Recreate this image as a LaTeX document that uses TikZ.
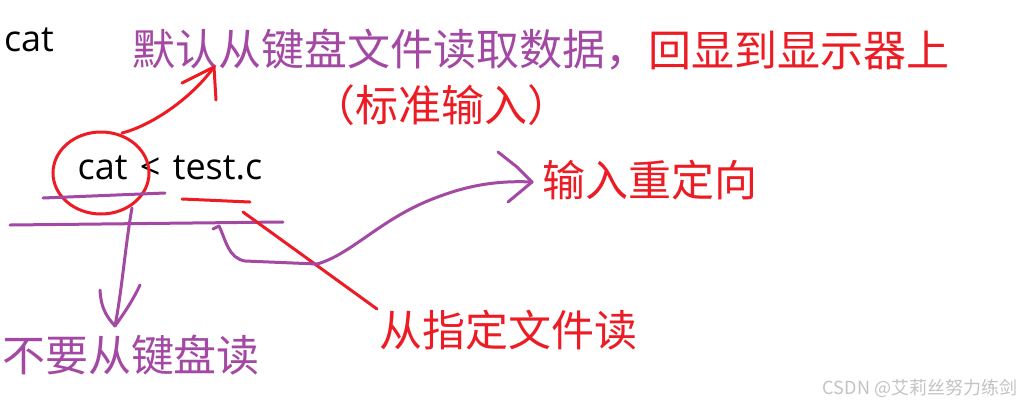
\documentclass[tikz,border=0pt]{standalone}
\usepackage{fontspec}
\setmainfont{Noto Sans CJK SC}
\newfontfamily\latinfont{Open Sans}
\usetikzlibrary{shapes.geometric}
\definecolor{ppurple}{RGB}{163,73,164}
\definecolor{pred}{RGB}{237,28,36}
\definecolor{wmgray}{RGB}{195,195,195}
\begin{document}
\begin{tikzpicture}[x=1pt,y=-1pt,
  pur/.style={draw=ppurple,line width=3pt,line cap=round,line join=round},
  rd/.style={draw=pred,line width=3pt,line cap=round,line join=round},
  lbl/.style={inner sep=0pt,font=\fontsize{43}{50}\selectfont},
  code/.style={inner sep=0pt,font=\latinfont\fontsize{36}{42}\selectfont,text=black}]
\useasboundingbox[fill=white] (0,0) rectangle (1029,408);

% texts
\node[code] (cat) at (29,40) {cat};
\node[lbl,text=ppurple,anchor=west] (def) at (132,50) {默认从键盘文件读取数据，};
\node[lbl,text=pred,anchor=west] (echo) at (def.east) {回显到显示器上};
\node[lbl,text=pred] (std) at (441,105) {（标准输入）};
\node[code] (cmd) at (170,168) {cat\hspace{3pt} <\hspace{3pt} test.c};
\node[lbl,text=pred] (redir) at (650,180) {输入重定向};
\node[lbl,text=pred] (file) at (508,330) {从指定文件读};
\node[lbl,text=ppurple] (nokb) at (131,355) {不要从键盘读};
\node[inner sep=0pt,font=\fontsize{18}{20}\selectfont,text=wmgray] (wm) at (920,388) {CSDN @艾莉丝努力练剑};

% red ring around "cat"
\node[ellipse,draw=pred,line width=3pt,minimum width=96pt,minimum height=82pt,inner sep=0pt] (ring) at (101,173) {};

% named points
\coordinate (upStart) at (122,133);
\coordinate (upTip) at (214,67);
\coordinate (downStart) at (132,208);
\coordinate (downTip) at (115,326);
\coordinate (loopStart) at (213,229);
\coordinate (redirTip) at (532,182);
\coordinate (fileStart) at (243,212);
\coordinate (fileEnd) at (377,309);

% underlines
\draw[pur] (43,198) -- (165,193);
\draw[pur] (10,225) -- (283,222);
\draw[rd] (182,199) -- (250,202);

% red arrow to top text
\draw[rd] (upStart) .. controls (150,126) and (190,100) .. (upTip);
\draw[rd] (182,83) -- (upTip) -- (216,100);

% red line to "从指定文件读"
\draw[rd] (fileStart) -- (fileEnd);

% purple arrow down
\draw[pur] (downStart) .. controls (126,240) and (122,290) .. (downTip);
\draw[pur] (100,290) .. controls (101,310) and (108,318) .. (downTip);
\draw[pur] (140,285) .. controls (133,300) and (125,312) .. (downTip);

% purple curve to "输入重定向"
\draw[pur] (loopStart) -- (219,226) .. controls (226,240) and (228,258) .. (245,261)
  -- (317,264) .. controls (350,255) and (380,220) .. (430,200)
  .. controls (460,188) and (490,180) .. (redirTip);
\draw[pur] (498,152) -- (517,167) -- (redirTip) -- (508,202);
\end{tikzpicture}
\end{document}
